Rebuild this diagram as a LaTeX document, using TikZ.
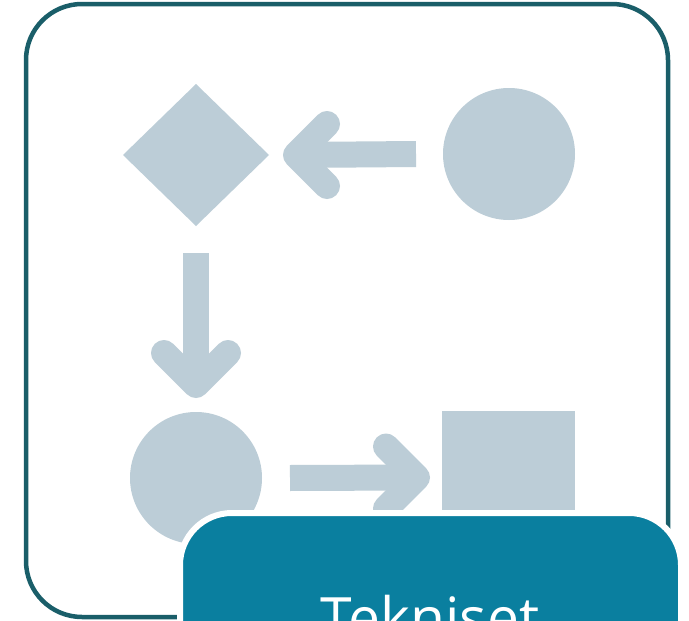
\documentclass[tikz,border=0pt]{standalone}
\usepackage{fontspec}
\setmainfont{Open Sans}
\usetikzlibrary{shapes.geometric}
\definecolor{framecol}{HTML}{1A5E69}
\definecolor{shapecol}{HTML}{BCCDD7}
\definecolor{tagcol}{HTML}{0A7F9F}
\begin{document}
\begin{tikzpicture}[
    x=1pt, y=-1pt,
    figure/.style={fill=shapecol, draw=none, inner sep=0pt, outer sep=0pt},
    shaft/.style={shapecol, line width=26pt},
    chevron/.style={shapecol, line width=26pt, line cap=round, line join=round},
]
\clip (0,0) rectangle (689,621);
\fill[white] (0,0) rectangle (689,621);

% Frame
\draw[framecol, line width=4.5pt, rounded corners=56pt] (26,4) rectangle (668,617);

% Shapes
\node[figure, diamond, minimum width=146pt, minimum height=142pt] (decide) at (196,155) {};
\node[figure, circle, minimum size=132pt] (start) at (509,154) {};
\node[figure, circle, minimum size=132pt] (event) at (196,478) {};
\node[figure, rectangle, minimum size=133pt] (task) at (508.5,477.5) {};

% Arrows
\draw[shaft] ([xshift=-27pt]start.west) -- ([xshift=27pt]decide.east);
\draw[chevron] ([xshift=58pt,yshift=31pt]decide.east) -- ([xshift=27pt]decide.east)
    -- ([xshift=58pt,yshift=-31pt]decide.east);

\draw[shaft] ([yshift=-27pt]decide.south) -- ([yshift=27pt]event.north);
\draw[chevron] ([xshift=-32pt,yshift=59pt]event.north) -- ([yshift=27pt]event.north)
    -- ([xshift=32pt,yshift=59pt]event.north);

\draw[shaft] ([xshift=28pt]event.east) -- ([xshift=-25pt]task.west);
\draw[chevron] ([xshift=-56pt,yshift=31pt]task.west) -- ([xshift=-25pt]task.west)
    -- ([xshift=-56pt,yshift=-31pt]task.west);

% Label box
\node[fill=tagcol, draw=white, line width=6pt, rounded corners=52pt,
      minimum width=501pt, minimum height=200pt, inner sep=0pt] (tagbox) at (430.5,613) {};
\node[white, anchor=base, inner sep=0pt, font=\fontsize{57}{60}\selectfont] (tagtext) at (430,638) {Tekniset};
\end{tikzpicture}
\end{document}
